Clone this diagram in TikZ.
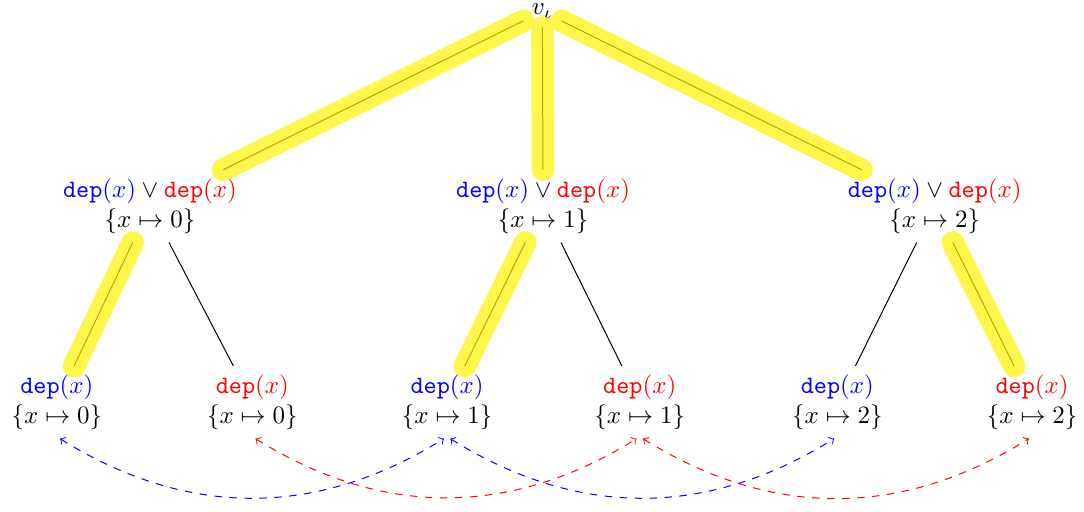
\documentclass[tikz,border=0pt]{standalone}
\begin{document}
\begin{tikzpicture}[line width=.4pt,
  hl/.style={line width=9pt,yellow,opacity=.7,line cap=round},
  link/.style={dashed,<->,bend right=32}]
\useasboundingbox (0,0) rectangle (15.25,-7.19);
\node (r) at (7.63,-.16) {$v_\iota$};
\foreach \n/\x/\v in {a/2.11/0,b/7.64/1,c/13.15/2}
  \node[align=center] (\n) at (\x,-2.9) {${\color{blue}\mathtt{dep}(x)}\lor{\color{red}\mathtt{dep}(x)}$\\$\{x\mapsto\v\}$};
\foreach \n/\x/\c/\v in {a1/.8/blue/0,a2/3.55/red/0,b1/6.29/blue/1,b2/9/red/1,c1/11.78/blue/2,c2/14.52/red/2}
  \node[align=center] (\n) at (\x,-5.66) {${\color{\c}\mathtt{dep}(x)}$\\$\{x\mapsto\v\}$};
\draw (r)--(a) (r)--(b) (r)--(c) (a)--(a1) (a)--(a2) (b)--(b1) (b)--(b2) (c)--(c1) (c)--(c2);
\draw[hl] (r)--(a) (r)--(b) (r)--(c) (a)--(a1) (b)--(b1) (c)--(c2);
\foreach \s/\t/\c in {a1/b1/blue,b1/c1/blue,a2/b2/red,b2/c2/red}
  \draw[link,\c] (\s.-85) to (\t.-95);
\end{tikzpicture}
\end{document}
